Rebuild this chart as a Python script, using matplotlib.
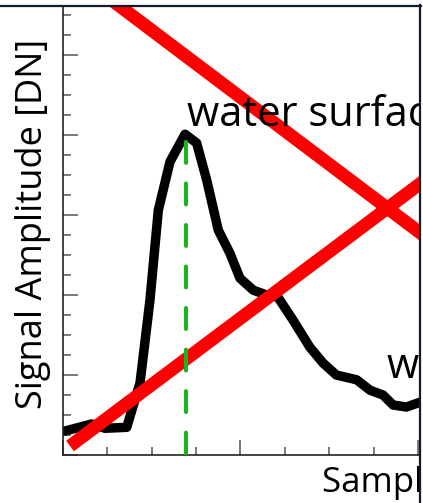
import matplotlib
matplotlib.use('Agg')
import matplotlib.pyplot as plt
from matplotlib.lines import Line2D
from matplotlib.patches import Rectangle

plt.rcParams['font.family'] = ['Open Sans', 'DejaVu Sans']

# waveform (sample position, amplitude in DN)
sample = [0.23, 3.23, 4.73, 7.18, 8.68, 9.8, 10.74, 12.06, 13.75, 15.06,
          16.19, 17.5, 18.8, 19.94, 21.44, 22.95, 24.2, 25.9, 27.8, 29.3,
          30.8, 33.1, 34.6, 36.06, 37.2, 38.7, 40.4]
amplitude = [30, 38.75, 33.4, 34.6, 90, 193.75, 306, 366.6, 401, 390,
             343.75, 281, 252.5, 221, 206, 200, 197.5, 169, 135, 115,
             100, 94, 81, 75, 62.5, 60, 66.6]

# peak position marked with the green dashed line
peak_x = 13.86
peak_top = 391

# the two red strike-through lines (x, y end points)
cross1_x = [4.0, 42.48]
cross1_y = [581, 259]
cross2_x = [0.79, 42.5]
cross2_y = [11.25, 358]

# labels
label_surface = 'water surface'
label_surface_pos = (13.97, 411)
label_bottom = 'water bottom'
label_bottom_pos = (36.5, 96)

fig = plt.figure(figsize=(4.23, 5.03), dpi=100)
ax = fig.add_axes([63/423, 48/503, 357/423, 448/503])

ax.plot(sample, amplitude, color='k', lw=6.8, solid_joinstyle='round',
        solid_capstyle='round', zorder=2)
ax.plot(cross1_x, cross1_y, color='#ff0000', lw=9.4, solid_capstyle='butt', zorder=3)
ax.plot(cross2_x, cross2_y, color='#ff0000', lw=9.4, solid_capstyle='butt', zorder=3)

plt.rcParams['lines.scale_dashes'] = False
green, = ax.plot([peak_x, peak_x], [peak_top, 0], color='#1fb21f', lw=3.0,
                 dash_capstyle='round', zorder=4)
green.set_dashes([15, 14.9])

ax.text(label_surface_pos[0], label_surface_pos[1], label_surface,
        fontsize=30, ha='left', va='baseline', clip_on=False, zorder=5)
ax.text(label_bottom_pos[0], label_bottom_pos[1], label_bottom,
        fontsize=30, ha='left', va='baseline', clip_on=False, zorder=5)

ax.set_xlim(0, 40.23)
ax.set_ylim(0, 560)
ax.set_xticks([0, 20, 40])
ax.set_xticks(range(0, 41, 5), minor=True)
ax.set_yticks(range(0, 560, 100))
ax.set_yticks(range(0, 560, 25), minor=True)
ax.tick_params(which='both', direction='in', labelbottom=False, labelleft=False,
               color='#555555', width=1.1)
ax.tick_params(which='major', length=11)
ax.tick_params(which='minor', length=5.5)
for s in ['top', 'right']:
    ax.spines[s].set_visible(False)
for s in ['left', 'bottom']:
    ax.spines[s].set_color('#222222')
    ax.spines[s].set_linewidth(1.2)

ax.set_xlabel('Sample Number', fontsize=25, ha='left', va='baseline')
ax.xaxis.set_label_coords((322-63)/357, -(492-455)/448)
ax.set_ylabel('Signal Amplitude [DN]', fontsize=26)
ax.yaxis.set_label_coords(-0.034, (455-224)/448)

# the picture is a crop: white strip on the right and dark frame lines
fig.patches.append(Rectangle((421/423, 0), 2/423, 1, transform=fig.transFigure,
                             color='white', zorder=10))
fig.lines.append(Line2D([0, 421/423], [1-6/503, 1-6/503], transform=fig.transFigure,
                        color='#121a2c', lw=1.6, zorder=11))
fig.lines.append(Line2D([420/423, 420/423], [0, 1-5/503], transform=fig.transFigure,
                        color='#121a2c', lw=1.6, zorder=11))

fig.savefig('out.png', dpi=100)
